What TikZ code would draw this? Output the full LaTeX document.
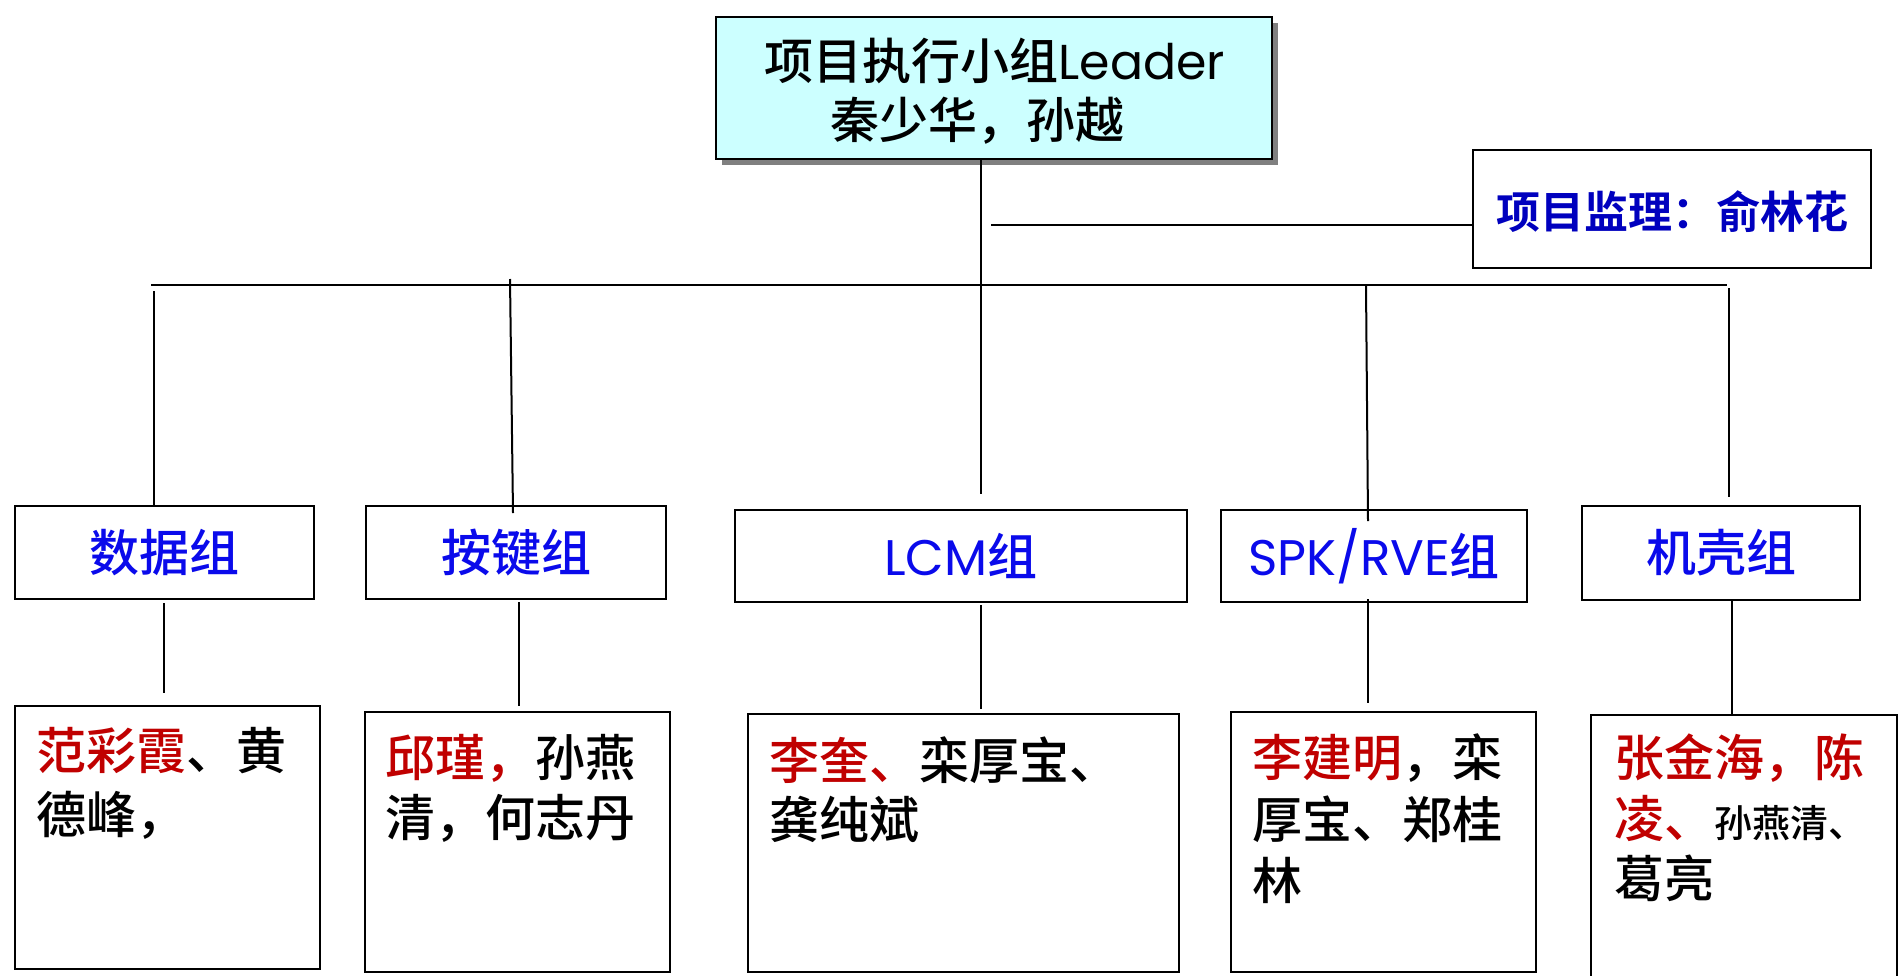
\documentclass[tikz,border=0pt]{standalone}
\usepackage{fontspec}
\setmainfont{Noto Sans CJK SC}[UprightFont=* Medium, BoldFont=* Bold]
\newfontfamily\lat{Poppins}
\usetikzlibrary{shadows}
\definecolor{topfill}{RGB}{204,255,255}
\definecolor{redname}{RGB}{192,0,0}
\definecolor{grpblue}{RGB}{10,10,235}
\definecolor{supblue}{RGB}{0,0,190}
\newcommand{\rn}[1]{\textcolor{redname}{#1}}
\begin{document}
\begin{tikzpicture}[x=0.5pt,y=-0.5pt,
  box/.style={draw=black, line width=1.3pt, inner sep=0pt, fill=white},
  grp/.style={box, font=\fontsize{25}{30}\selectfont, text=grpblue},
  mem/.style={anchor=west, inner sep=0pt, font=\fontsize{25}{30}\selectfont},
  conn/.style={draw=black, line width=1pt}]
\useasboundingbox (0,0) rectangle (1900,975);
\fill[white] (0,0) rectangle (1900,975);

% top box
\node[box, fill=topfill, minimum width=278pt, minimum height=71pt,
  drop shadow={shadow xshift=3pt, shadow yshift=-3pt, fill=black!50, opacity=1}] (top) at (994,88) {};
\node[inner sep=0pt, font=\fontsize{24.5}{29}\selectfont] (t1) at (995,61) {项目执行小组{\lat Leader}};
\node[inner sep=0pt, font=\fontsize{24.5}{29}\selectfont] (t2) at (977,121) {秦少华，孙越};

% supervisor
\node[box, minimum width=199pt, minimum height=59pt] (sup) at (1672,209) {};
\node[inner sep=0pt, font=\bfseries\fontsize{22}{26}\selectfont, text=supblue] (st) at (1672,212) {项目监理：俞林花};

% group boxes
\node[grp, minimum width=149.5pt, minimum height=46.5pt] (g1) at (164.5,552.5) {数据组};
\node[grp, minimum width=150pt, minimum height=46.5pt] (g2) at (516,552.5) {按键组};
\node[grp, minimum width=226pt, minimum height=46pt] (g3) at (961,556) {{\lat LCM}组};
\node[grp, minimum width=153pt, minimum height=46pt] (g4) at (1374,556) {{\lat SPK/RVE}组};
\node[grp, minimum width=139pt, minimum height=47pt] (g5) at (1721,553) {机壳组};

% member boxes
\node[box, minimum width=152.5pt, minimum height=131.5pt] (m1) at (167.5,837.5) {};
\node[box, minimum width=152.5pt, minimum height=130pt] (m2) at (517.5,842) {};
\node[box, minimum width=215.5pt, minimum height=129pt] (m3) at (963.5,843) {};
\node[box, minimum width=152.5pt, minimum height=130pt] (m4) at (1383.5,842) {};
\node[box, minimum width=153pt, minimum height=140pt] (m5) at (1744,855) {};

\node[mem] (m1a) at (36,751) {\rn{范彩霞}、黄};
\node[mem] (m1b) at (36,815) {德峰，};
\node[mem] (m2a) at (385,758) {\rn{邱瑾，}孙燕};
\node[mem] (m2b) at (385,818) {清，何志丹};
\node[mem] (m3a) at (769,760) {\rn{李奎、}栾厚宝、};
\node[mem] (m3b) at (769,819) {龚纯斌};
\node[mem] (m4a) at (1252,758) {\rn{李建明}，栾};
\node[mem] (m4b) at (1252,819) {厚宝、郑桂};
\node[mem] (m4c) at (1252,880) {林};
\node[mem] (m5a) at (1614,758) {\rn{张金海，陈}};
\node[mem] (m5b) at (1614,818) {\rn{凌、}{\fontsize{19}{23}\selectfont 孙燕清、}};
\node[mem] (m5c) at (1614,878) {葛亮};

% connector coordinates
\coordinate (trunk) at (981,159);
\coordinate (trunkend) at (981,494);
\coordinate (supL) at (991,225);
\coordinate (busL) at (151,285);
\coordinate (busR) at (1727,285);
\coordinate (d1) at (154,291);
\coordinate (d2) at (510,279);
\coordinate (d2e) at (513,513);
\coordinate (d4) at (1366,285);
\coordinate (d4e) at (1368,521);
\coordinate (d5) at (1729,288);
\coordinate (d5e) at (1729,497);

\draw[conn] (trunk) -- (trunkend);
\draw[conn] (supL) -- (supL -| sup.west);
\draw[conn] (busL) -- (busR);
\draw[conn] (d1) -- (d1 |- g1.north);
\draw[conn] (d2) -- (d2e);
\draw[conn] (d4) -- (d4e);
\draw[conn] (d5) -- (d5e);

% group to member
\coordinate (e1) at (164,603);
\coordinate (e1e) at (164,693);
\coordinate (e2) at (519,602);
\coordinate (e2e) at (519,706);
\coordinate (e3) at (981,605);
\coordinate (e3e) at (981,709);
\coordinate (e4) at (1368,599);
\coordinate (e4e) at (1368,703);
\coordinate (e5) at (1732,599);
\coordinate (e5e) at (1732,715);
\draw[conn] (e1) -- (e1e);
\draw[conn] (e2) -- (e2e);
\draw[conn] (e3) -- (e3e);
\draw[conn] (e4) -- (e4e);
\draw[conn] (e5) -- (e5e);
\end{tikzpicture}
\end{document}
